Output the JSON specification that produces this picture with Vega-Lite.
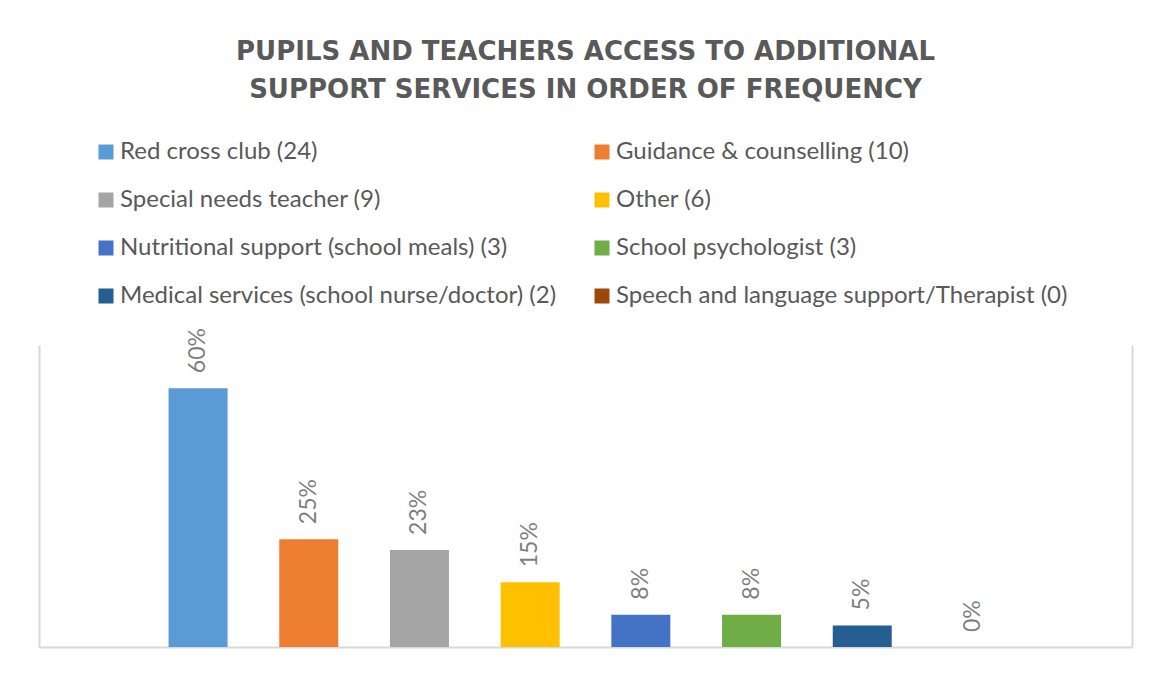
{
  "$schema": "https://vega.github.io/schema/vega-lite/v6.json",
  "width": 1093,
  "height": 302,
  "autosize": {"type": "none"},
  "padding": {"left": 39, "top": 345, "right": 28, "bottom": 30},
  "background": "white",
  "title": {
    "text": ["PUPILS AND TEACHERS ACCESS TO ADDITIONAL", "SUPPORT SERVICES IN ORDER OF FREQUENCY"],
    "anchor": "middle",
    "font": "DejaVu Sans",
    "fontSize": 26,
    "fontWeight": "bold",
    "color": "#595959",
    "lineHeight": 38,
    "offset": 37
  },
  "data": {
    "values": [
      {"service": "Red cross club (24)", "count": 24, "pct": 0.6, "label": "60%"},
      {"service": "Guidance & counselling (10)", "count": 10, "pct": 0.25, "label": "25%"},
      {"service": "Special needs teacher (9)", "count": 9, "pct": 0.225, "label": "23%"},
      {"service": "Other (6)", "count": 6, "pct": 0.15, "label": "15%"},
      {"service": "Nutritional support (school meals) (3)", "count": 3, "pct": 0.075, "label": "8%"},
      {"service": "School psychologist (3)", "count": 3, "pct": 0.075, "label": "8%"},
      {"service": "Medical services (school nurse/doctor) (2)", "count": 2, "pct": 0.05, "label": "5%"},
      {"service": "Speech and language support/Therapist (0)", "count": 0, "pct": 0, "label": "0%"}
    ]
  },
  "encoding": {
    "x": {
      "field": "service",
      "type": "nominal",
      "sort": null,
      "scale": {"paddingInner": 0, "paddingOuter": 0.937},
      "axis": {"title": null, "labels": false, "ticks": false, "domain": true, "domainColor": "#d9d9d9", "domainWidth": 2}
    },
    "y": {
      "field": "pct",
      "type": "quantitative",
      "scale": {"domain": [0, 0.7], "nice": false}
    }
  },
  "layer": [
    {
      "mark": {"type": "bar", "width": {"band": 0.533}},
      "encoding": {
        "y": {
          "field": "pct",
          "type": "quantitative",
          "axis": {"orient": "left", "title": null, "labels": false, "ticks": false, "grid": false, "domain": true, "domainColor": "#d9d9d9", "domainWidth": 2}
        },
        "color": {
          "field": "service",
          "type": "nominal",
          "sort": null,
          "scale": {
            "domain": [
              "Red cross club (24)",
              "Guidance & counselling (10)",
              "Special needs teacher (9)",
              "Other (6)",
              "Nutritional support (school meals) (3)",
              "School psychologist (3)",
              "Medical services (school nurse/doctor) (2)",
              "Speech and language support/Therapist (0)"
            ],
            "range": ["#5B9BD5", "#ED7D31", "#A5A5A5", "#FFC000", "#4472C4", "#70AD47", "#255E91", "#9E480E"]
          },
          "legend": {
            "title": null,
            "orient": "none",
            "legendX": 55,
            "legendY": -205,
            "columns": 2,
            "direction": "horizontal",
            "columnPadding": 33,
            "rowPadding": 24,
            "symbolType": "square",
            "symbolSize": 225,
            "symbolStrokeWidth": 0,
            "labelFont": "Lato",
            "labelFontSize": 24,
            "labelColor": "#595959",
            "labelOffset": 2,
            "labelLimit": 600,
            "padding": 0
          }
        }
      }
    },
    {
      "mark": {"type": "text", "angle": 270, "align": "left", "baseline": "middle", "dx": 15, "font": "Lato", "fontSize": 23, "color": "#7f7f7f"},
      "encoding": {
        "y": {
          "field": "pct",
          "type": "quantitative",
          "axis": {"orient": "right", "title": null, "labels": false, "ticks": false, "grid": false, "domain": true, "domainColor": "#d9d9d9", "domainWidth": 2}
        },
        "text": {"field": "label"}
      }
    }
  ],
  "resolve": {"axis": {"y": "independent"}},
  "config": {
    "view": {"stroke": null}
  }
}
